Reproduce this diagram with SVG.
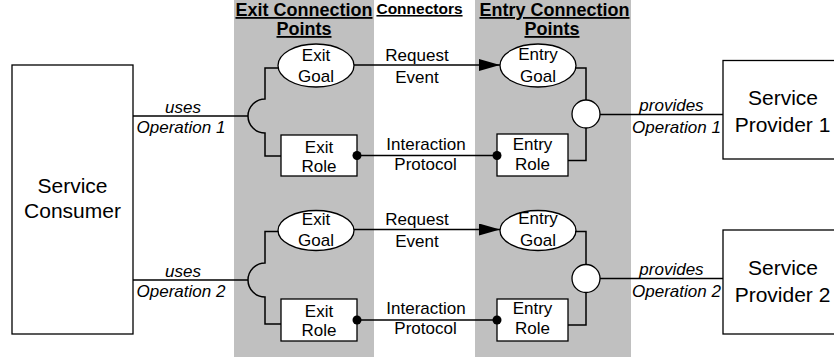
<svg xmlns="http://www.w3.org/2000/svg" width="834" height="360" viewBox="0 0 834 360">
<style>
text{font-family:"Liberation Sans",Arial,sans-serif;fill:#000;text-anchor:middle}
.t{font-size:17px}
.i{font-size:17px;font-style:italic}
.b{font-size:18px;font-weight:bold;text-decoration:underline}
.s{font-size:21px}
.box{fill:#fff;stroke:#000;stroke-width:1.3}
.ln{fill:none;stroke:#000;stroke-width:1.5}
.dot{fill:#000}
.panel{fill:#c0c0c0}
</style>
<defs>
<marker id="tri" markerWidth="22" markerHeight="12" refX="21" refY="6" orient="auto" markerUnits="userSpaceOnUse">
<path d="M0,0 L21,6 L0,12 Z" fill="#000"/>
</marker>
</defs>
<g id="panels">
<rect class="panel" x="234" y="0" width="140" height="357"/>
<rect class="panel" x="475" y="0" width="156" height="357"/>
<text class="b" x="304" y="16">Exit Connection</text>
<text class="b" x="304" y="35">Points</text>
<text class="b" x="419.5" y="14" style="font-size:15.5px">Connectors</text>
<text class="b" x="554.5" y="16">Entry Connection</text>
<text class="b" x="552" y="35">Points</text>
</g>
<g id="consumer">
<rect class="box" x="12" y="65" width="121" height="269"/>
<text class="s" x="72.5" y="193">Service</text>
<text class="s" x="72.5" y="218">Consumer</text>
</g>
<g id="exit-goal-1">
<ellipse class="box" cx="316" cy="65.5" rx="38" ry="21.5"/>
<text class="t" x="316" y="61">Exit</text>
<text class="t" x="316" y="81.5">Goal</text>
</g>
<g id="exit-role-1">
<rect class="box" x="281" y="135" width="76" height="41"/>
<text class="t" x="319" y="153">Exit</text>
<text class="t" x="319" y="172">Role</text>
</g>
<g id="entry-goal-1">
<ellipse class="box" cx="538" cy="65.5" rx="38" ry="21.5"/>
<text class="t" x="538" y="60">Entry</text>
<text class="t" x="538" y="81.5">Goal</text>
</g>
<g id="entry-role-1">
<rect class="box" x="497" y="134" width="71" height="42"/>
<text class="t" x="532.5" y="150">Entry</text>
<text class="t" x="532.5" y="170">Role</text>
</g>
<g id="interface-1">
<circle class="box" cx="586" cy="114" r="14"/>
</g>
<g id="provider-1">
<rect class="box" x="723" y="60.5" width="120" height="98.5"/>
<text class="s" x="783" y="105">Service</text>
<text class="s" x="782.5" y="131.5">Provider 1</text>
</g>
<g id="exit-goal-2">
<ellipse class="box" cx="316" cy="230.5" rx="38" ry="20"/>
<text class="t" x="316" y="225">Exit</text>
<text class="t" x="316" y="245.5">Goal</text>
</g>
<g id="exit-role-2">
<rect class="box" x="281" y="299" width="76" height="42"/>
<text class="t" x="319" y="317">Exit</text>
<text class="t" x="319" y="336">Role</text>
</g>
<g id="entry-goal-2">
<ellipse class="box" cx="538" cy="230.5" rx="38" ry="20"/>
<text class="t" x="538" y="224">Entry</text>
<text class="t" x="538" y="245.5">Goal</text>
</g>
<g id="entry-role-2">
<rect class="box" x="497" y="299" width="71" height="42"/>
<text class="t" x="532.5" y="314">Entry</text>
<text class="t" x="532.5" y="334">Role</text>
</g>
<g id="interface-2">
<circle class="box" cx="586" cy="278.5" r="14"/>
</g>
<g id="provider-2">
<rect class="box" x="723" y="230" width="120" height="104"/>
<text class="s" x="783" y="275">Service</text>
<text class="s" x="782.5" y="301.5">Provider 2</text>
</g>
<g id="connectors">
<path class="ln" d="M133,116 H248"/>
<path class="ln" d="M278.5,68 H265 V99 A17,17 0 0 0 265,133 V156 H281"/>
<path class="ln" d="M354,65 H500" marker-end="url(#tri)"/>
<path class="ln" d="M357,155.5 H497"/>
<circle class="dot" cx="357" cy="155.5" r="4.5"/>
<circle class="dot" cx="497" cy="155.5" r="4.5"/>
<path class="ln" d="M575,68 H586 V100"/>
<path class="ln" d="M586,128 V160.5 H568"/>
<path class="ln" d="M600,114.5 H723"/>
<path class="ln" d="M133,280 H248"/>
<path class="ln" d="M278.5,231.5 H265 V263 A17,17 0 0 0 265,297 V324 H281"/>
<path class="ln" d="M354,229.5 H500" marker-end="url(#tri)"/>
<path class="ln" d="M357,320 H497"/>
<circle class="dot" cx="357" cy="320" r="4.5"/>
<circle class="dot" cx="497" cy="320" r="4.5"/>
<path class="ln" d="M575,231.5 H586 V264"/>
<path class="ln" d="M586,292.5 V325 H568"/>
<path class="ln" d="M600,278.5 H723"/>
<text class="i" x="183" y="113">uses</text>
<text class="i" x="181" y="133">Operation 1</text>
<text class="i" x="183" y="277">uses</text>
<text class="i" x="181" y="297">Operation 2</text>
<text class="t" x="417" y="61">Request</text>
<text class="t" x="417" y="83">Event</text>
<text class="t" x="426" y="150">Interaction</text>
<text class="t" x="425.5" y="170">Protocol</text>
<text class="t" x="417" y="225">Request</text>
<text class="t" x="417" y="247">Event</text>
<text class="t" x="426" y="314">Interaction</text>
<text class="t" x="425.5" y="334">Protocol</text>
<text class="i" x="671.5" y="111">provides</text>
<text class="i" x="676.5" y="133">Operation 1</text>
<text class="i" x="671.5" y="275">provides</text>
<text class="i" x="676.5" y="297">Operation 2</text>
</g>
</svg>
